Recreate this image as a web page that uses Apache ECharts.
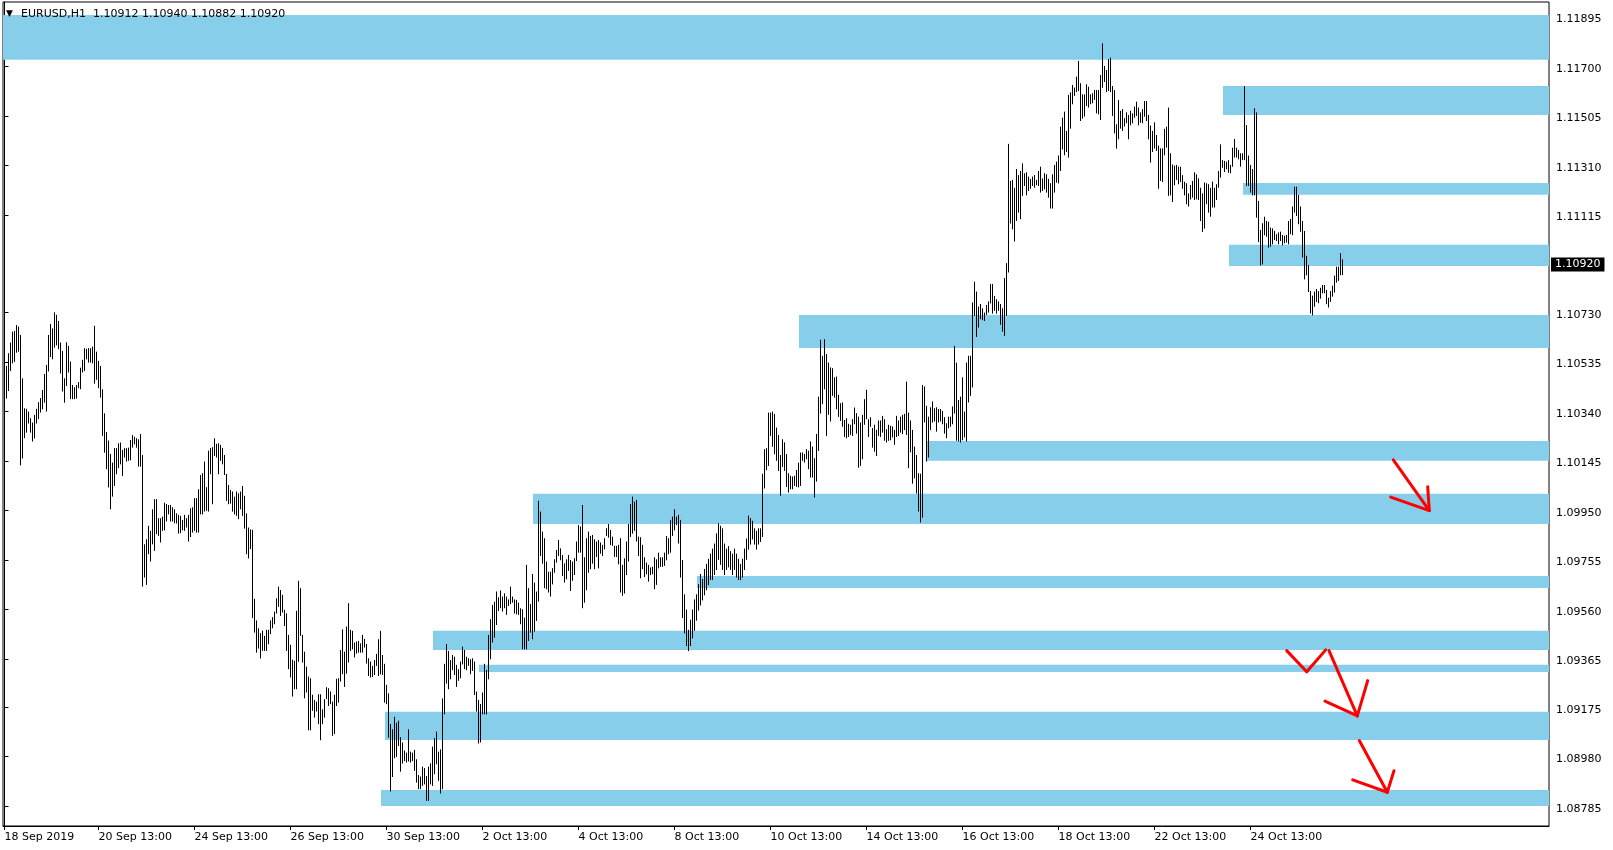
<!DOCTYPE html>
<html>
<head>
<meta charset="utf-8">
<script src="https://cdn.jsdelivr.net/npm/echarts@6.0.0/dist/echarts.min.js"></script>
<style>
html,body{margin:0;padding:0;background:#fff;}
#chart{width:1613px;height:850px;}
</style>
</head>
<body>
<div id="chart"></div>
<script>
const symbolName = 'EURUSD,H1';
const lastOHLC = [1.10912, 1.10940, 1.10882, 1.10920];

const xTickBars = [0, 47, 95, 143, 191, 239, 287, 335, 383, 431, 479, 527, 575, 623];
const xTickLabels = ['18 Sep 2019', '20 Sep 13:00', '24 Sep 13:00', '26 Sep 13:00', '30 Sep 13:00', '2 Oct 13:00', '4 Oct 13:00', '8 Oct 13:00', '10 Oct 13:00', '14 Oct 13:00', '16 Oct 13:00', '18 Oct 13:00', '22 Oct 13:00', '24 Oct 13:00'];
const yTickValues = [1.11895, 1.11700, 1.11505, 1.11310, 1.11115, 1.10730, 1.10535, 1.10340, 1.10145, 1.09950, 1.09755, 1.09560, 1.09365, 1.09175, 1.08980, 1.08785];

// hourly bar highs / lows (bar 0 = 18 Sep 2019 14:00)
const highs = [
1.10520,1.10520,1.10570,1.10612,1.10655,1.10658,1.10681,1.10675,1.10642,1.10471,1.10353,1.10351,1.10340,1.10314,1.10297,1.10327,1.10351,1.10377,1.10393,1.10425,
1.10488,1.10524,1.10642,1.10685,1.10668,1.10731,1.10721,1.10697,1.10612,1.10579,1.10471,1.10613,1.10599,1.10537,1.10445,1.10436,1.10445,1.10456,1.10513,1.10544,
1.10590,1.10587,1.10590,1.10590,1.10596,1.10678,1.10576,1.10540,1.10520,1.10428,1.10333,1.10259,1.10226,1.10173,1.10139,1.10196,1.10196,1.10215,1.10218,1.10189,
1.10196,1.10196,1.10198,1.10228,1.10248,1.10241,1.10235,1.10231,1.10252,1.10169,1.09817,1.09837,1.09890,1.09870,1.09955,1.09995,1.09995,1.09920,1.09920,1.09926,
1.09981,1.09976,1.09972,1.09972,1.09963,1.09955,1.09939,1.09933,1.09929,1.09913,1.09933,1.09920,1.09933,1.09959,1.09963,1.09999,1.09999,1.10034,1.10090,1.10097,
1.10143,1.10042,1.10186,1.10196,1.10200,1.10235,1.10213,1.10215,1.10209,1.10196,1.10169,1.10094,1.10051,1.10031,1.10025,1.10005,1.10025,1.10018,1.10025,1.10047,
1.10008,1.09939,1.09883,1.09876,1.09874,1.09602,1.09517,1.09486,1.09467,1.09477,1.09456,1.09480,1.09480,1.09517,1.09530,1.09552,1.09604,1.09650,1.09637,1.09618,
1.09559,1.09545,1.09460,1.09421,1.09362,1.09358,1.09555,1.09673,1.09644,1.09460,1.09394,1.09335,1.09296,1.09289,1.09224,1.09204,1.09197,1.09226,1.09226,1.09167,
1.09207,1.09254,1.09250,1.09237,1.09197,1.09224,1.09287,1.09289,1.09400,1.09482,1.09394,1.09493,1.09585,1.09480,1.09476,1.09430,1.09434,1.09436,1.09427,1.09460,
1.09444,1.09424,1.09368,1.09355,1.09338,1.09361,1.09385,1.09443,1.09476,1.09381,1.09346,1.09263,1.09230,1.09109,1.09088,1.09138,1.09114,1.09122,1.09057,1.09036,
1.09004,1.08996,1.09088,1.09000,1.08996,1.09007,1.08970,1.08908,1.08902,1.08941,1.08935,1.08904,1.08941,1.08954,1.09020,1.09053,1.09079,1.09000,1.09009,1.09210,
1.09346,1.09424,1.09397,1.09361,1.09381,1.09374,1.09342,1.09325,1.09355,1.09414,1.09401,1.09374,1.09368,1.09364,1.09368,1.09355,1.09237,1.09204,1.09188,1.09233,
1.09346,1.09322,1.09460,1.09522,1.09578,1.09591,1.09631,1.09608,1.09635,1.09611,1.09624,1.09611,1.09600,1.09650,1.09611,1.09600,1.09598,1.09587,1.09565,1.09561,
1.09528,1.09736,1.09644,1.09582,1.09700,1.09666,1.09631,1.09989,1.09946,1.09867,1.09841,1.09749,1.09709,1.09709,1.09723,1.09758,1.09795,1.09834,1.09801,1.09775,
1.09742,1.09758,1.09775,1.09755,1.09749,1.09762,1.09828,1.09893,1.09887,1.09972,1.09766,1.09841,1.09867,1.09850,1.09854,1.09837,1.09828,1.09834,1.09824,1.09815,
1.09841,1.09880,1.09897,1.09874,1.09847,1.09811,1.09811,1.09815,1.09841,1.09736,1.09762,1.09828,1.09897,1.09976,1.10005,1.09985,1.09992,1.09847,1.09845,1.09815,
1.09766,1.09745,1.09736,1.09726,1.09729,1.09766,1.09758,1.09784,1.09766,1.09766,1.09784,1.09850,1.09841,1.09913,1.09926,1.09955,1.09926,1.09933,1.09913,1.09755,
1.09620,1.09560,1.09480,1.09520,1.09560,1.09600,1.09620,1.09660,1.09700,1.09680,1.09720,1.09740,1.09760,1.09780,1.09800,1.09820,1.09860,1.09900,1.09890,1.09880,
1.09820,1.09800,1.09810,1.09790,1.09780,1.09800,1.09780,1.09760,1.09740,1.09760,1.09800,1.09840,1.09930,1.09920,1.09910,1.09880,1.09870,1.09880,1.09880,1.10095,
1.10192,1.10196,1.10336,1.10336,1.10340,1.10331,1.10277,1.10248,1.10169,1.10231,1.10219,1.10173,1.10097,1.10087,1.10084,1.10087,1.10110,1.10139,1.10179,1.10179,
1.10173,1.10192,1.10186,1.10222,1.10202,1.10156,1.10252,1.10399,1.10623,1.10560,1.10625,1.10567,1.10533,1.10514,1.10511,1.10475,1.10478,1.10406,1.10373,1.10376,
1.10307,1.10314,1.10292,1.10288,1.10310,1.10356,1.10334,1.10320,1.10297,1.10327,1.10389,1.10426,1.10310,1.10318,1.10275,1.10288,1.10268,1.10305,1.10305,1.10323,
1.10310,1.10271,1.10288,1.10284,1.10281,1.10268,1.10323,1.10305,1.10320,1.10327,1.10331,1.10458,1.10336,1.10305,1.10268,1.10202,1.10169,1.10097,1.10095,1.10445,
1.10439,1.10363,1.10320,1.10357,1.10380,1.10353,1.10357,1.10350,1.10350,1.10343,1.10318,1.10294,1.10320,1.10320,1.10360,1.10599,1.10533,1.10386,1.10399,1.10475,
1.10340,1.10533,1.10560,1.10560,1.10770,1.10852,1.10813,1.10754,1.10764,1.10747,1.10730,1.10760,1.10774,1.10843,1.10843,1.10796,1.10783,1.10774,1.10764,1.10747,
1.10866,1.10925,1.11395,1.11249,1.11253,1.11222,1.11296,1.11272,1.11288,1.11318,1.11279,1.11283,1.11266,1.11257,1.11266,1.11272,1.11253,1.11288,1.11305,1.11259,
1.11279,1.11275,1.11257,1.11240,1.11275,1.11312,1.11325,1.11349,1.11463,1.11498,1.11522,1.11446,1.11588,1.11598,1.11627,1.11617,1.11660,1.11722,1.11634,1.11590,
1.11590,1.11630,1.11620,1.11590,1.11594,1.11607,1.11607,1.11607,1.11666,1.11791,1.11702,1.11686,1.11729,1.11735,1.11623,1.11607,1.11472,1.11568,1.11525,1.11532,
1.11496,1.11519,1.11509,1.11525,1.11515,1.11542,1.11561,1.11538,1.11519,1.11532,1.11564,1.11564,1.11509,1.11467,1.11446,1.11480,1.11430,1.11388,1.11377,1.11377,
1.11454,1.11463,1.11538,1.11358,1.11314,1.11309,1.11312,1.11305,1.11305,1.11272,1.11246,1.11240,1.11200,1.11233,1.11249,1.11283,1.11275,1.11259,1.11222,1.11200,
1.11243,1.11240,1.11236,1.11222,1.11246,1.11222,1.11236,1.11288,1.11393,1.11331,1.11328,1.11325,1.11331,1.11312,1.11380,1.11414,1.11380,1.11371,1.11358,1.11358,
1.11623,1.11469,1.11349,1.11312,1.11296,1.11535,1.11519,1.11170,1.11056,1.11082,1.11108,1.11091,1.11088,1.11065,1.11062,1.11052,1.11039,1.11046,1.11049,1.11036,
1.11033,1.11036,1.11091,1.11099,1.11148,1.11226,1.11226,1.11194,1.11148,1.11091,1.11052,1.10954,1.10918,1.10815,1.10797,1.10813,1.10823,1.10815,1.10828,1.10839,
1.10839,1.10819,1.10789,1.10815,1.10836,1.10876,1.10911,1.10911,1.10964,1.10940
];
const lows = [
1.10425,1.10395,1.10425,1.10504,1.10534,1.10540,1.10576,1.10580,1.10132,1.10159,1.10239,1.10261,1.10297,1.10261,1.10226,1.10238,1.10297,1.10314,1.10340,1.10353,
1.10379,1.10344,1.10502,1.10559,1.10550,1.10596,1.10605,1.10590,1.10494,1.10423,1.10379,1.10445,1.10498,1.10393,1.10393,1.10393,1.10395,1.10436,1.10432,1.10498,
1.10504,1.10550,1.10537,1.10537,1.10534,1.10454,1.10469,1.10436,1.10399,1.10248,1.10182,1.10117,1.10045,1.09959,1.10009,1.10051,1.10097,1.10121,1.10136,1.10090,
1.10163,1.10147,1.10150,1.10152,1.10202,1.10215,1.10202,1.10127,1.10127,1.09654,1.09690,1.09661,1.09782,1.09753,1.09821,1.09795,1.09861,1.09854,1.09828,1.09874,
1.09876,1.09911,1.09939,1.09911,1.09911,1.09904,1.09903,1.09863,1.09865,1.09876,1.09874,1.09887,1.09832,1.09850,1.09867,1.09874,1.09867,1.09867,1.09939,1.09939,
1.09950,1.09953,1.09950,1.10097,1.09979,1.10169,1.10163,1.10097,1.10150,1.10136,1.10094,1.09992,1.09979,1.09981,1.09950,1.09939,1.09933,1.09920,1.09959,1.09933,
1.09883,1.09782,1.09765,1.09802,1.09530,1.09473,1.09394,1.09410,1.09371,1.09401,1.09401,1.09401,1.09427,1.09467,1.09490,1.09506,1.09548,1.09574,1.09539,1.09552,
1.09499,1.09401,1.09329,1.09296,1.09221,1.09250,1.09250,1.09358,1.09460,1.09355,1.09214,1.09237,1.09088,1.09088,1.09165,1.09138,1.09162,1.09112,1.09049,1.09112,
1.09138,1.09211,1.09184,1.09191,1.09066,1.09073,1.09184,1.09197,1.09280,1.09309,1.09259,1.09311,1.09355,1.09401,1.09407,1.09375,1.09390,1.09394,1.09394,1.09394,
1.09414,1.09351,1.09302,1.09296,1.09298,1.09306,1.09342,1.09302,1.09309,1.09306,1.09197,1.09191,1.09059,1.08847,1.08904,1.08978,1.08983,1.09026,1.08925,1.08957,
1.08967,1.08961,1.08965,1.08961,1.08967,1.08928,1.08882,1.08856,1.08856,1.08869,1.08875,1.08810,1.08810,1.08875,1.08869,1.08915,1.08954,1.08889,1.08839,1.08856,
1.09151,1.09272,1.09250,1.09289,1.09325,1.09306,1.09259,1.09283,1.09293,1.09348,1.09329,1.09325,1.09342,1.09309,1.09322,1.09227,1.09162,1.09036,1.09040,1.09151,
1.09151,1.09151,1.09289,1.09368,1.09434,1.09453,1.09503,1.09558,1.09569,1.09556,1.09569,1.09543,1.09578,1.09585,1.09591,1.09548,1.09545,1.09543,1.09506,1.09407,
1.09407,1.09407,1.09440,1.09473,1.09447,1.09477,1.09519,1.09595,1.09775,1.09745,1.09648,1.09644,1.09631,1.09615,1.09663,1.09709,1.09749,1.09775,1.09758,1.09696,
1.09670,1.09683,1.09716,1.09637,1.09677,1.09700,1.09755,1.09788,1.09788,1.09569,1.09591,1.09640,1.09709,1.09723,1.09745,1.09723,1.09771,1.09726,1.09784,1.09775,
1.09801,1.09854,1.09847,1.09818,1.09815,1.09771,1.09771,1.09742,1.09631,1.09618,1.09627,1.09700,1.09753,1.09850,1.09863,1.09874,1.09832,1.09775,1.09687,1.09723,
1.09692,1.09703,1.09674,1.09700,1.09703,1.09644,1.09661,1.09726,1.09732,1.09732,1.09736,1.09758,1.09782,1.09788,1.09854,1.09876,1.09897,1.09824,1.09690,1.09530,
1.09470,1.09420,1.09400,1.09420,1.09450,1.09480,1.09520,1.09560,1.09580,1.09600,1.09620,1.09640,1.09660,1.09680,1.09680,1.09700,1.09720,1.09760,1.09740,1.09720,
1.09700,1.09720,1.09730,1.09720,1.09700,1.09720,1.09690,1.09680,1.09680,1.09690,1.09720,1.09760,1.09800,1.09820,1.09840,1.09820,1.09800,1.09820,1.09830,1.09850,
1.10041,1.10113,1.10130,1.10248,1.10205,1.10176,1.10150,1.10110,1.10012,1.10126,1.10110,1.10047,1.10025,1.10038,1.10038,1.10051,1.10047,1.10045,1.10051,1.10150,
1.10143,1.10156,1.10117,1.10084,1.10084,1.10005,1.10068,1.10189,1.10336,1.10373,1.10432,1.10248,1.10331,1.10305,1.10406,1.10399,1.10353,1.10323,1.10307,1.10284,
1.10244,1.10239,1.10244,1.10252,1.10248,1.10294,1.10257,1.10123,1.10130,1.10156,1.10292,1.10314,1.10244,1.10284,1.10202,1.10186,1.10169,1.10248,1.10244,1.10261,
1.10229,1.10222,1.10229,1.10231,1.10242,1.10213,1.10244,1.10248,1.10261,1.10255,1.10271,1.10252,1.10121,1.10183,1.10060,1.10081,1.10021,1.09950,1.09907,1.09926,
1.10301,1.10147,1.10163,1.10271,1.10301,1.10305,1.10265,1.10301,1.10305,1.10294,1.10257,1.10239,1.10278,1.10284,1.10294,1.10336,1.10229,1.10226,1.10222,1.10231,
1.10242,1.10226,1.10380,1.10406,1.10439,1.10721,1.10638,1.10675,1.10708,1.10704,1.10701,1.10725,1.10734,1.10770,1.10730,1.10741,1.10730,1.10741,1.10686,1.10659,
1.10642,1.10721,1.10892,1.11085,1.11062,1.11014,1.11095,1.11128,1.11102,1.11194,1.11233,1.11196,1.11213,1.11222,1.11233,1.11226,1.11236,1.11233,1.11207,1.11213,
1.11220,1.11207,1.11187,1.11144,1.11144,1.11207,1.11246,1.11243,1.11292,1.11377,1.11354,1.11367,1.11345,1.11459,1.11555,1.11588,1.11603,1.11607,1.11489,1.11498,
1.11506,1.11548,1.11542,1.11555,1.11559,1.11572,1.11519,1.11515,1.11493,1.11620,1.11643,1.11603,1.11607,1.11603,1.11509,1.11440,1.11380,1.11417,1.11459,1.11450,
1.11467,1.11480,1.11417,1.11472,1.11480,1.11502,1.11509,1.11472,1.11482,1.11480,1.11506,1.11489,1.11417,1.11325,1.11367,1.11380,1.11371,1.11222,1.11253,1.11249,
1.11354,1.11384,1.11194,1.11196,1.11170,1.11236,1.11257,1.11240,1.11249,1.11222,1.11196,1.11161,1.11152,1.11180,1.11187,1.11178,1.11180,1.11178,1.11095,1.11052,
1.11065,1.11161,1.11128,1.11112,1.11148,1.11148,1.11178,1.11226,1.11266,1.11305,1.11288,1.11299,1.11285,1.11283,1.11309,1.11345,1.11345,1.11338,1.11309,1.11335,
1.11335,1.11233,1.11233,1.11207,1.11196,1.11196,1.11108,1.11012,1.10920,1.10924,1.11039,1.11033,1.10990,1.10994,1.11003,1.11020,1.11016,1.11003,1.11016,1.10999,
1.11007,1.11010,1.11003,1.11043,1.11039,1.11128,1.11115,1.11082,1.11052,1.10951,1.10865,1.10881,1.10815,1.10731,1.10723,1.10757,1.10776,1.10771,1.10789,1.10810,
1.10810,1.10767,1.10754,1.10776,1.10797,1.10813,1.10852,1.10859,1.10881,1.10882
];

// support / resistance zones: starting bar, upper price, lower price
const zoneStart = [-0.75, 609.25, 619.25, 612.25, 397.25, 461.25, 264.25, 346.25, 214.25, 237.25, 190.25, 188.25];
const zoneHigh  = [1.11903, 1.11623, 1.11241, 1.10997, 1.10721, 1.10224, 1.10016, 1.09692, 1.09476, 1.09342, 1.09157, 1.08849];
const zoneLow   = [1.11726, 1.11509, 1.11194, 1.10914, 1.10591, 1.10146, 1.09897, 1.09645, 1.09401, 1.09314, 1.09046, 1.08786];

// hand-drawn red arrows: [bar1, price1, bar2, price2]
const arrowSegments = [
  [694.4, 1.10150, 712.4, 1.09950], [693.1, 1.10003, 712.4, 1.09950], [711.6, 1.10044, 712.4, 1.09950],
  [641.1, 1.09398, 651.1, 1.09315], [651.1, 1.09315, 660.6, 1.09401],
  [662.25, 1.09398, 676.4, 1.09141], [660.25, 1.09199, 676.4, 1.09141], [681.6, 1.09280, 676.4, 1.09141],
  [677.4, 1.09044, 691.4, 1.08840], [674.1, 1.08889, 691.4, 1.08840], [694.75, 1.08925, 691.4, 1.08840]
];

const FONT = 'DejaVu Sans';
const barData = highs.map((h, i) => [i, lows[i], h]);
const zoneData = zoneStart.map((s, i) => [s, zoneHigh[i], zoneLow[i]]);
const Y_MIN = 1.08707, Y_MAX = 1.11954;

const chart = echarts.init(document.getElementById('chart'), null, {renderer: 'canvas'});
chart.setOption({
  animation: false,
  backgroundColor: '#ffffff',
  title: [
    {
      text: '\u25BC', left: 6, top: 9, padding: 0,
      textStyle: {fontFamily: FONT, fontSize: 9, fontWeight: 'normal', color: '#000'}
    },
    {
      text: symbolName + '  ' + lastOHLC.map(v => v.toFixed(5)).join(' '),
      left: 21, top: 9, padding: 0,
      textStyle: {fontFamily: FONT, fontSize: 11, fontWeight: 'normal', color: '#000'}
    }
  ],
  grid: {left: 3, right: 64, top: 2, bottom: 24, show: true, borderColor: '#000', borderWidth: 1, backgroundColor: '#fff'},
  xAxis: {
    type: 'value', min: -0.75, max: 772.25,
    axisLine: {show: true, lineStyle: {color: '#000', width: 1}},
    axisTick: {show: true, length: 4, customValues: xTickBars, lineStyle: {color: '#000'}},
    axisLabel: {
      customValues: xTickBars,
      formatter: v => xTickLabels[xTickBars.indexOf(Math.round(v))],
      align: 'left', margin: 6, color: '#000', fontFamily: FONT, fontSize: 11
    },
    splitLine: {show: false}
  },
  yAxis: [
    {
      type: 'value', position: 'right', min: Y_MIN, max: Y_MAX, scale: true,
      axisLine: {show: true, lineStyle: {color: '#000', width: 1}},
      axisTick: {show: true, length: 4, customValues: yTickValues, lineStyle: {color: '#000'}},
      axisLabel: {
        customValues: yTickValues,
        formatter: v => v.toFixed(5),
        margin: 7, verticalAlign: 'top', lineHeight: 5,
        color: '#000', fontFamily: FONT, fontSize: 11
      },
      splitLine: {show: false}
    },
    {
      type: 'value', position: 'right', min: Y_MIN, max: Y_MAX, scale: true,
      axisLine: {show: false},
      axisTick: {show: false},
      axisLabel: {
        customValues: [lastOHLC[3]],
        formatter: v => v.toFixed(5),
        margin: 2, color: '#fff', backgroundColor: '#000', padding: [2, 4, 1, 4],
        fontFamily: FONT, fontSize: 11
      },
      splitLine: {show: false}
    }
  ],
  series: [
    {
      type: 'custom', name: 'zones', z: 1,
      data: zoneData,
      encode: {x: 0, y: [1, 2]},
      renderItem: (params, api) => {
        const a = api.coord([api.value(0), api.value(1)]);
        const b = api.coord([api.value(0), api.value(2)]);
        const right = params.coordSys.x + params.coordSys.width;
        return {type: 'rect', shape: {x: a[0], y: a[1], width: right - a[0], height: b[1] - a[1]}, style: {fill: '#87CEEB'}};
      }
    },
    {
      type: 'custom', name: 'bars', z: 2,
      data: barData,
      encode: {x: 0, y: [1, 2]},
      renderItem: (params, api) => {
        const x = api.value(0);
        const p1 = api.coord([x, api.value(2)]);
        const p2 = api.coord([x, api.value(1)]);
        return {type: 'line', shape: {x1: p1[0], y1: p1[1], x2: p2[0], y2: p2[1] + 1}, style: {stroke: '#000', lineWidth: 1}};
      }
    },
    {
      type: 'custom', name: 'arrows', z: 3,
      data: arrowSegments,
      encode: {x: [0, 2], y: [1, 3]},
      renderItem: (params, api) => {
        const a = api.coord([api.value(0), api.value(1)]);
        const b = api.coord([api.value(2), api.value(3)]);
        return {type: 'line', shape: {x1: a[0], y1: a[1], x2: b[0], y2: b[1]}, style: {stroke: '#ff0000', lineWidth: 3, lineCap: 'round'}};
      }
    }
  ]
});
</script>
</body>
</html>
